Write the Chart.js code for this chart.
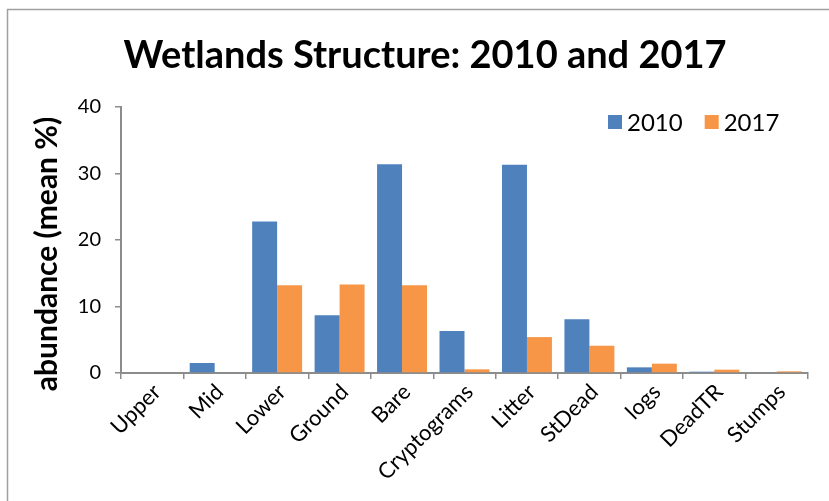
<!DOCTYPE html>
<html>
<head>
<meta charset="utf-8">
<title>Wetlands Structure</title>
<script src="https://cdn.jsdelivr.net/npm/chart.js@4/dist/chart.umd.min.js"></script>
<style>
  html, body { margin: 0; padding: 0; background: #fff; }
  canvas { display: block; }
</style>
</head>
<body>
<canvas id="chart" width="829" height="501"></canvas>
<script>
const categories = ["Upper", "Mid", "Lower", "Ground", "Bare", "Cryptograms", "Litter", "StDead", "logs", "DeadTR", "Stumps"];
const values2010 = [0, 1.5, 22.8, 8.7, 31.4, 6.3, 31.3, 8.1, 0.85, 0.2, 0];
const values2017 = [0, 0, 13.2, 13.3, 13.2, 0.55, 5.4, 4.1, 1.4, 0.5, 0.25];
const yTicks = [0, 10, 20, 30, 40];
const yTitle = "abundance (mean %)";

const FONT = "Lato, 'Open Sans', sans-serif";
const AXIS_GRAY = "#8c8c8c";

Chart.defaults.font.family = FONT;
Chart.defaults.color = "#000";

// outer frame of the chart object
const framePlugin = {
  id: "frame",
  beforeDraw(chart) {
    const ctx = chart.ctx;
    ctx.save();
    ctx.fillStyle = "#fff";
    ctx.fillRect(0, 0, chart.width, chart.height);
    ctx.strokeStyle = "#a0a0a0";
    ctx.lineWidth = 1.5;
    ctx.beginPath();
    ctx.moveTo(7.5, chart.height);
    ctx.lineTo(7.5, 9.5);
    ctx.lineTo(chart.width, 9.5);
    ctx.stroke();
    ctx.restore();
  }
};

// vertical axis title, drawn a little below the plot's middle
const yTitlePlugin = {
  id: "yTitle",
  afterDraw(chart) {
    const { ctx, chartArea } = chart;
    ctx.save();
    ctx.translate(47, (chartArea.top + chartArea.bottom) / 2 + 14);
    ctx.rotate(-Math.PI / 2);
    ctx.font = "bold 30px " + FONT;
    ctx.fillStyle = "#000";
    ctx.textAlign = "center";
    ctx.textBaseline = "middle";
    ctx.fillText(yTitle, 0, 0);
    ctx.restore();
  }
};

// legend in a single row inside the top right of the plot
const insideLegendPlugin = {
  id: "insideLegend",
  afterDraw(chart) {
    const { ctx, chartArea } = chart;
    const box = 14;
    const cy = chartArea.top + 15;
    let x = chartArea.left + 487;
    ctx.save();
    ctx.font = "24px " + FONT;
    ctx.textBaseline = "middle";
    ctx.textAlign = "left";
    chart.data.datasets.forEach(ds => {
      ctx.fillStyle = ds.backgroundColor;
      ctx.fillRect(x, cy - box / 2, box, box);
      ctx.fillStyle = "#000";
      ctx.fillText(ds.label, x + box + 5, cy + 1);
      x += box + 5 + ctx.measureText(ds.label).width + 22;
    });
    ctx.restore();
  }
};

new Chart(document.getElementById("chart"), {
  type: "bar",
  data: {
    labels: categories,
    datasets: [
      {
        label: "2010",
        data: values2010,
        backgroundColor: "#4f81bd",
        categoryPercentage: 0.8,
        barPercentage: 1.0
      },
      {
        label: "2017",
        data: values2017,
        backgroundColor: "#f79646",
        categoryPercentage: 0.8,
        barPercentage: 1.0
      }
    ]
  },
  options: {
    responsive: false,
    animation: false,
    layout: { padding: { left: 42, right: 21, top: 10, bottom: 0 } },
    plugins: {
      title: {
        display: true,
        text: "Wetlands Structure: 2010 and 2017",
        color: "#000",
        font: { size: 38, weight: "bold", lineHeight: 1.2 },
        padding: { top: 23, bottom: 28.4 }
      },
      legend: { display: false },
      tooltip: { enabled: false }
    },
    scales: {
      x: {
        afterFit(scale) { scale.height = 128; },
        border: { color: AXIS_GRAY, width: 2 },
        grid: { display: true, drawOnChartArea: false, drawTicks: true, tickLength: 6, color: AXIS_GRAY, lineWidth: 1.5 },
        ticks: { maxRotation: 45, minRotation: 45, padding: 0, labelOffset: 5, font: { size: 22 }, color: "#000" }
      },
      y: {
        min: 0,
        max: 40,
        afterFit(scale) { scale.width = 79; },
        afterBuildTicks(scale) { scale.ticks = yTicks.map(v => ({ value: v })); },
        border: { color: AXIS_GRAY, width: 2 },
        grid: { display: true, drawOnChartArea: false, drawTicks: true, tickLength: 6, color: AXIS_GRAY, lineWidth: 1.5 },
        ticks: { padding: 14, font: { size: 20 }, color: "#000" }
      }
    }
  },
  plugins: [framePlugin, yTitlePlugin, insideLegendPlugin]
});
</script>
</body>
</html>
